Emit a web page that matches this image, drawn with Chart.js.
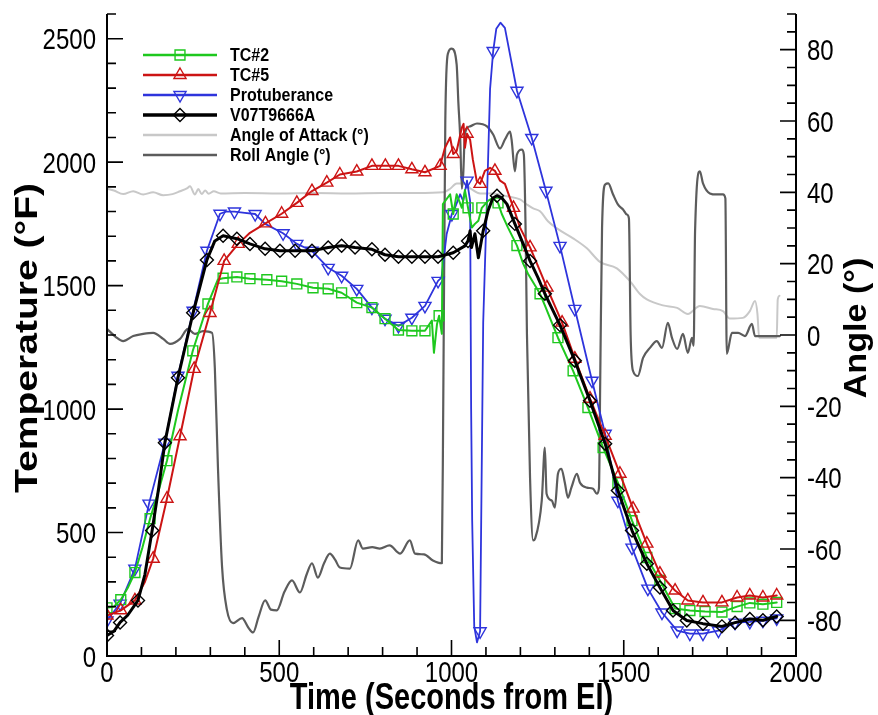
<!DOCTYPE html>
<html>
<head>
<meta charset="utf-8">
<script src="https://cdn.jsdelivr.net/npm/chart.js@4.4.0/dist/chart.umd.min.js"></script>
<style>
    html, body { margin: 0; padding: 0; background: #fff; }
    #wrap { width: 878px; height: 715px; }
</style>
</head>
<body>
<div id="wrap"><canvas id="tempChart" width="878" height="715"></canvas></div>
<script>
// Tick labels
const timeTicks = [0, 500, 1000, 1500, 2000];
const tempTicks = [0, 500, 1000, 1500, 2000, 2500];
const angleTicks = [-80, -60, -40, -20, 0, 20, 40, 60, 80];

// TC#2 (deg F)
const tc2Time = [0, 20, 40, 60, 81, 103, 125, 150, 174, 206, 249, 293, 322, 337, 377, 415, 464, 507, 551, 598, 642, 681, 725, 769, 807, 846, 885, 923, 943, 949, 958, 964, 972, 975, 996, 1005, 1015, 1030, 1039, 1048, 1059, 1068, 1078, 1088, 1106, 1120, 1135, 1146, 1164, 1190, 1208, 1222, 1257, 1271, 1309, 1353, 1396, 1440, 1483, 1524, 1567, 1605, 1649, 1692, 1736, 1785, 1829, 1866, 1904, 1944];
const tc2Temp = [195, 200, 228, 275, 338, 440, 556, 670, 791, 994, 1236, 1426, 1525, 1530, 1535, 1528, 1524, 1518, 1507, 1491, 1487, 1471, 1431, 1411, 1366, 1320, 1317, 1317, 1358, 1228, 1345, 1378, 1305, 1830, 1870, 1790, 1870, 1815, 1887, 1815, 1735, 1750, 1763, 1815, 1843, 1855, 1835, 1790, 1735, 1662, 1589, 1548, 1467, 1420, 1289, 1155, 1006, 844, 702, 548, 399, 306, 192, 184, 180, 178, 200, 215, 210, 217];

// TC#5
const tc5Time = [0, 40, 81, 110, 134, 174, 212, 253, 299, 340, 381, 415, 460, 507, 551, 595, 638, 676, 725, 769, 808, 846, 885, 923, 967, 981, 996, 1005, 1015, 1030, 1035, 1039, 1045, 1054, 1062, 1073, 1083, 1097, 1112, 1126, 1141, 1155, 1180, 1199, 1228, 1248, 1277, 1306, 1321, 1358, 1402, 1446, 1489, 1527, 1567, 1605, 1649, 1686, 1730, 1785, 1829, 1866, 1904, 1944];
const tc5Temp = [164, 185, 225, 300, 394, 637, 890, 1163, 1389, 1600, 1669, 1714, 1752, 1791, 1835, 1883, 1917, 1950, 1962, 1985, 1985, 1985, 1971, 1959, 1985, 2058, 2100, 2033, 2045, 2140, 2155, 2058, 2115, 2091, 2010, 1925, 1912, 1965, 1977, 1965, 1925, 1912, 1815, 1735, 1655, 1589, 1492, 1399, 1350, 1204, 1042, 892, 738, 597, 455, 334, 265, 225, 217, 217, 237, 245, 237, 245];

// Protuberance
const protTime = [0, 38, 81, 122, 168, 206, 250, 290, 328, 345, 370, 400, 430, 459, 511, 551, 595, 642, 681, 725, 769, 807, 846, 885, 923, 961, 971, 986, 1001, 1010, 1025, 1034, 1045, 1054, 1057, 1060, 1066, 1074, 1083, 1092, 1104, 1112, 1121, 1130, 1142, 1155, 1190, 1233, 1274, 1315, 1358, 1408, 1446, 1483, 1524, 1570, 1611, 1655, 1692, 1730, 1775, 1823, 1866, 1904, 1944];
const protTemp = [144, 212, 354, 617, 864, 1135, 1398, 1641, 1791, 1800, 1800, 1795, 1790, 1750, 1712, 1669, 1641, 1572, 1540, 1487, 1411, 1366, 1337, 1370, 1418, 1519, 1532, 1709, 1790, 1815, 1870, 1843, 1925, 1843, 1000, 550, 120, 55, 100, 1350, 1900, 2297, 2450, 2540, 2565, 2544, 2289, 2098, 1884, 1661, 1406, 1115, 900, 629, 439, 273, 176, 103, 91, 91, 103, 135, 138, 143, 152];

// V07T9666A
const v07Time = [0, 20, 38, 60, 90, 110, 131, 150, 168, 206, 250, 290, 313, 337, 377, 415, 459, 502, 546, 595, 642, 681, 720, 769, 807, 846, 885, 923, 961, 1005, 1039, 1048, 1054, 1058, 1068, 1078, 1092, 1106, 1120, 1132, 1146, 1161, 1184, 1208, 1228, 1251, 1271, 1295, 1315, 1358, 1402, 1446, 1483, 1524, 1567, 1605, 1643, 1683, 1730, 1785, 1823, 1866, 1904, 1944];
const v07Temp = [83, 100, 136, 165, 225, 330, 508, 680, 864, 1127, 1390, 1604, 1681, 1702, 1690, 1669, 1649, 1641, 1641, 1641, 1654, 1661, 1654, 1647, 1625, 1617, 1617, 1617, 1617, 1633, 1661, 1681, 1722, 1654, 1710, 1613, 1722, 1803, 1855, 1864, 1855, 1830, 1750, 1669, 1600, 1532, 1467, 1398, 1340, 1196, 1034, 860, 670, 508, 374, 277, 184, 144, 131, 120, 135, 150, 145, 160];

// Angle of attack (deg)
const aoaTime = [0, 20, 47, 76, 105, 134, 163, 190, 212, 232, 241, 255, 265, 275, 285, 295, 310, 330, 400, 500, 600, 700, 800, 900, 975, 996, 1015, 1034, 1059, 1083, 1121, 1161, 1199, 1219, 1237, 1257, 1280, 1306, 1353, 1393, 1431, 1480, 1518, 1547, 1567, 1614, 1655, 1686, 1721, 1759, 1788, 1808, 1846, 1866, 1881, 1888, 1893, 1944, 1947, 1952];
const aoaAngle = [41, 40.5, 39.5, 40.3, 39.4, 40, 39.2, 39.5, 40.3, 41.1, 41.7, 39.4, 40.9, 39.5, 40.5, 39.6, 40.3, 39.7, 39.8, 39.7, 39.8, 39.7, 39.8, 39.8, 40, 41, 42.5, 42.5, 40.8, 39.7, 39.7, 38.9, 38, 36.6, 35.5, 34.7, 31.9, 29.9, 27.1, 24.3, 20.5, 18.7, 15.1, 11.5, 10, 8.3, 7.6, 5.9, 8.1, 7.3, 6.7, 4.6, 4.8, 6.7, 9.5, 6, -0.8, -0.8, 10, 11];

// Roll angle (deg)
const rollTime = [0, 25, 47, 76, 105, 134, 163, 183, 212, 235, 255, 279, 305, 313, 322, 334, 348, 366, 392, 410, 424, 440, 459, 476, 493, 515, 537, 560, 580, 595, 612, 630, 647, 662, 676, 705, 729, 743, 770, 792, 820, 851, 879, 894, 920, 946, 972, 976, 982, 990, 1001, 1015, 1020, 1025, 1030, 1034, 1039, 1054, 1074, 1103, 1121, 1141, 1155, 1170, 1175, 1184, 1190, 1204, 1210, 1215, 1219, 1228, 1237, 1243, 1262, 1271, 1276, 1291, 1300, 1309, 1319, 1329, 1338, 1348, 1364, 1373, 1393, 1411, 1422, 1428, 1432, 1437, 1446, 1455, 1469, 1483, 1498, 1509, 1515, 1520, 1527, 1541, 1556, 1576, 1596, 1611, 1628, 1640, 1655, 1672, 1686, 1698, 1703, 1707, 1721, 1730, 1750, 1770, 1788, 1795, 1799, 1814, 1832, 1852, 1872, 1881, 1953];
const rollAngle = [1.7, -0.5, -1.7, -0.3, 0.3, 0.6, -1.1, -2.5, -1.1, 1.7, 0.3, 1.1, 0.6, -9.2, -37, -65, -77, -80.8, -79.4, -82, -83.4, -79, -74.4, -77, -77.2, -72, -68.8, -72.2, -67, -64, -68, -64, -61.3, -63, -65.2, -65.5, -57.6, -59.9, -59.5, -59.9, -59, -61.3, -57.6, -61.3, -61.5, -63.2, -64, -20, 60, 79, 80.3, 75.8, 65, 56, 41, 45, 56.5, 58.5, 59.3, 58.5, 56.2, 52.3, 54.8, 57, 54.3, 45.9, 50.6, 52, 50.6, 30, 0.3, -40, -57.6, -57, -46.4, -31.6, -44.5, -46.4, -48.4, -38.9, -37.5, -41.4, -45.6, -42.8, -38.9, -41.4, -42.8, -43.1, -44.5, -43, -10, 30, 42.2, 42.5, 39.4, 36.6, 35.2, 33.8, 32.7, 0, -10.1, -11.5, -6.4, -3.6, -1.7, -3.6, 3.4, -0.8, -3.9, 0.3, -5, -0.8, -3, 29, 45.9, 42.5, 39.7, 39.4, 39.4, 38.3, -5.3, 0.6, 0.6, -0.3, 3.1, -0.3, -0.3];

const FONT = '"Liberation Sans", Arial, Helvetica, sans-serif';

function toPoints(times, values) {
    return times.map((t, i) => ({ x: t, y: values[i] }));
}

// Show a marker roughly every `gap` seconds along a series
function markerRadii(times, gap, r) {
    let last = -1e9;
    return times.map(t => {
        if (t - last >= gap) { last = t; return r; }
        return 0;
    });
}

function tempSeries(label, times, values, color, style, rotation, radius, width, order) {
    return {
        label: label,
        data: toPoints(times, values),
        yAxisID: 'yT',
        borderColor: color,
        borderWidth: width,
        pointStyle: style,
        pointRotation: rotation,
        pointRadius: markerRadii(times, 37, radius),
        pointBorderColor: color,
        pointBackgroundColor: 'rgba(0,0,0,0)',
        pointBorderWidth: 1.4,
        pointHoverRadius: 0,
        tension: 0,
        order: order,
        legendRadius: radius
    };
}

function angleSeries(label, times, values, color, width, order) {
    return {
        label: label,
        data: toPoints(times, values),
        yAxisID: 'yA',
        borderColor: color,
        borderWidth: width,
        pointRadius: 0,
        pointHoverRadius: 0,
        cubicInterpolationMode: 'monotone',
        order: order,
        pointStyle: false
    };
}

// Draw text with a vertical stretch, as in the original figure
function drawText(ctx, text, x, y, font, align, rot, sy) {
    ctx.save();
    ctx.translate(x, y);
    if (rot) {
        ctx.rotate(rot);
        ctx.scale(sy, 1);
    } else {
        ctx.scale(1, sy);
    }
    ctx.font = font;
    ctx.textAlign = align;
    ctx.textBaseline = 'alphabetic';
    ctx.fillStyle = '#000';
    ctx.fillText(text, 0, 0);
    ctx.restore();
}

function drawMarker(ctx, style, rotation, x, y, r) {
    ctx.beginPath();
    if (style === 'rect') {
        const s = Math.SQRT2 * r;
        ctx.rect(x - s / 2, y - s / 2, s, s);
    } else if (style === 'triangle') {
        let rad = (rotation || 0) * Math.PI / 180;
        for (let k = 0; k < 3; k++) {
            const px = x + Math.sin(rad) * r;
            const py = y - Math.cos(rad) * r;
            if (k === 0) ctx.moveTo(px, py); else ctx.lineTo(px, py);
            rad += 2 * Math.PI / 3;
        }
        ctx.closePath();
    } else if (style === 'rectRot') {
        ctx.moveTo(x, y - r);
        ctx.lineTo(x + r, y);
        ctx.lineTo(x, y + r);
        ctx.lineTo(x - r, y);
        ctx.closePath();
    }
    ctx.stroke();
}

// Frame, inward ticks, labels, titles and legend
const framePlugin = {
    id: 'frame',
    afterDraw(chart) {
        const ctx = chart.ctx;
        const a = chart.chartArea;
        const xs = chart.scales.x, yT = chart.scales.yT, yA = chart.scales.yA;

        ctx.save();
        ctx.strokeStyle = '#000';
        ctx.lineWidth = 2;
        ctx.beginPath();
        ctx.moveTo(a.left, a.top);
        ctx.lineTo(a.left, a.bottom);
        ctx.lineTo(a.right, a.bottom);
        ctx.lineTo(a.right, a.top);
        ctx.stroke();

        ctx.lineWidth = 1.6;
        ctx.beginPath();
        for (let v = 0; v <= 2000; v += 100) {
            const px = xs.getPixelForValue(v);
            const len = v % 500 === 0 ? 16 : 9;
            ctx.moveTo(px, a.bottom);
            ctx.lineTo(px, a.bottom - len);
        }
        for (let v = 0; v <= 2600; v += 100) {
            const py = yT.getPixelForValue(v);
            const len = v % 500 === 0 ? 16 : 9;
            ctx.moveTo(a.left, py);
            ctx.lineTo(a.left + len, py);
        }
        for (let v = -90; v <= 90; v += 5) {
            const py = yA.getPixelForValue(v);
            const len = v % 20 === 0 ? 16 : 9;
            ctx.moveTo(a.right, py);
            ctx.lineTo(a.right - len, py);
        }
        ctx.stroke();

        const tickFont = '24px ' + FONT;
        const sy = 1.25;
        timeTicks.forEach(v => drawText(ctx, String(v), xs.getPixelForValue(v), 682, tickFont, 'center', 0, sy));
        tempTicks.forEach(v => drawText(ctx, String(v), 96, yT.getPixelForValue(v) + 10.7, tickFont, 'right', 0, sy));
        angleTicks.forEach(v => drawText(ctx, String(v), 807, yA.getPixelForValue(v) + 10.7, tickFont, 'left', 0, sy));

        drawText(ctx, 'Time (Seconds from EI)', (a.left + a.right) / 2, 709, 'bold 29px ' + FONT, 'center', 0, 1.3);
        drawText(ctx, 'Temperature (\u00B0F)', 37, 338, 'bold 31px ' + FONT, 'center', -Math.PI / 2, 1.26);
        drawText(ctx, 'Angle (\u00B0)', 866, 328, 'bold 31px ' + FONT, 'center', -Math.PI / 2, 1.1);

        // Legend
        const rows = chart.data.datasets;
        rows.forEach((ds, i) => {
            const y = 55 + i * 20;
            ctx.strokeStyle = ds.borderColor;
            ctx.lineWidth = ds.borderWidth + 0.5;
            ctx.beginPath();
            ctx.moveTo(143, y);
            ctx.lineTo(217, y);
            ctx.stroke();
            if (ds.pointStyle) {
                ctx.lineWidth = 1.4;
                drawMarker(ctx, ds.pointStyle, ds.pointRotation, 180, y, ds.legendRadius);
            }
            drawText(ctx, ds.label, 230, y + 6, 'bold 16px ' + FONT, 'left', 0, 1.1);
        });
        ctx.restore();
    }
};

const datasets = [
    tempSeries('TC#2', tc2Time, tc2Temp, '#1ec81e', 'rect', 0, 7, 2, 3),
    tempSeries('TC#5', tc5Time, tc5Temp, '#cc1414', 'triangle', 0, 7, 2, 2),
    tempSeries('Protuberance', protTime, protTemp, '#2e34dc', 'triangle', 180, 7, 1.8, 4),
    tempSeries('V07T9666A', v07Time, v07Temp, '#000000', 'rectRot', 0, 6.5, 3, 1),
    angleSeries('Angle of Attack (\u00B0)', aoaTime, aoaAngle, '#c8c8c8', 2, 6),
    angleSeries('Roll Angle (\u00B0)', rollTime, rollAngle, '#5c5c5c', 2.2, 5)
];

const chart = new Chart(document.getElementById('tempChart').getContext('2d'), {
    type: 'line',
    data: { datasets: datasets },
    options: {
        responsive: false,
        animation: false,
        layout: { padding: { top: 14, left: 0, right: 0, bottom: 0 } },
        elements: { line: { borderJoinStyle: 'round', borderCapStyle: 'round' } },
        plugins: {
            legend: { display: false },
            tooltip: { enabled: false }
        },
        scales: {
            x: {
                type: 'linear',
                position: 'bottom',
                min: 0,
                max: 2000,
                ticks: { display: false },
                grid: { display: false },
                border: { display: false },
                afterFit: s => { s.height = 59; }
            },
            yT: {
                type: 'linear',
                position: 'left',
                min: 0,
                max: 2600,
                ticks: { display: false },
                grid: { display: false },
                border: { display: false },
                afterFit: s => { s.width = 107; }
            },
            yA: {
                type: 'linear',
                position: 'right',
                min: -90,
                max: 90,
                ticks: { display: false },
                grid: { display: false },
                border: { display: false },
                afterFit: s => { s.width = 82; }
            }
        }
    },
    plugins: [framePlugin]
});
</script>
</body>
</html>
